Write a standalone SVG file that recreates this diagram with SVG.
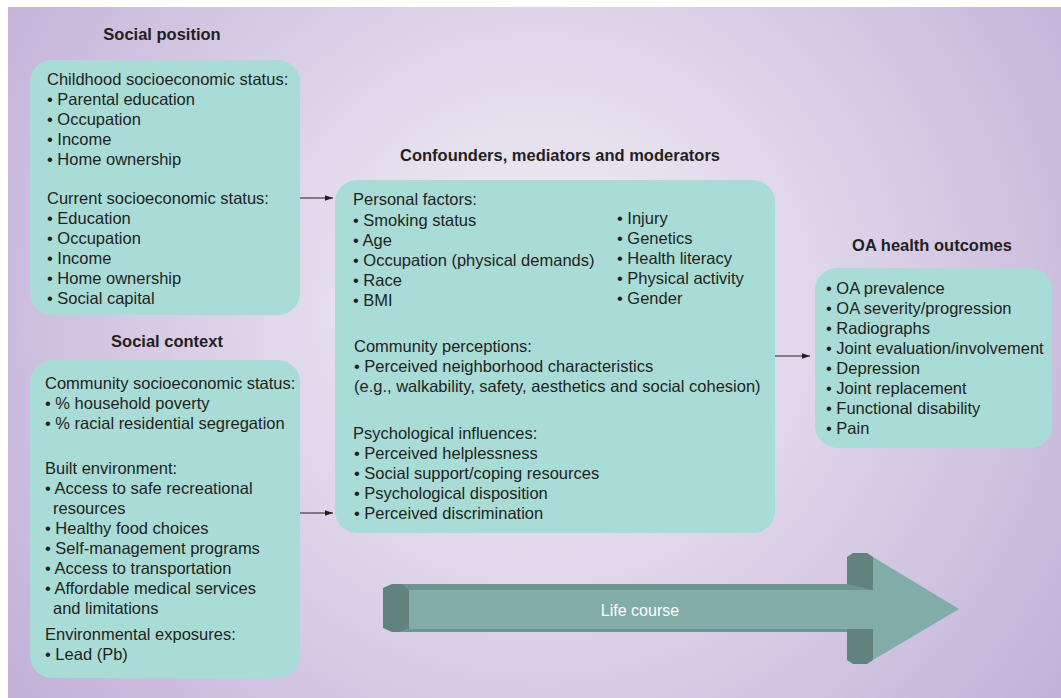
<svg xmlns="http://www.w3.org/2000/svg" width="1061" height="698" viewBox="0 0 1061 698">
<defs>
<radialGradient id="bg" gradientUnits="userSpaceOnUse" cx="540" cy="310" r="640">
<stop offset="0" stop-color="#f3f1f8"/>
<stop offset="0.3" stop-color="#e6dfee"/>
<stop offset="0.7" stop-color="#d2c5e2"/>
<stop offset="1" stop-color="#c3b2d8"/>
</radialGradient>
<marker id="ah" viewBox="0 0 10 10" refX="10" refY="5" markerWidth="8" markerHeight="8" markerUnits="userSpaceOnUse" orient="auto">
<path d="M0,1.5 L10,5 L0,8.5 z" fill="#231f20"/>
</marker>
</defs>
<style>
.box{fill:#a9dcd7}
.t{font-family:"Liberation Sans",Arial,sans-serif;font-size:16.5px;fill:#231f20}
.h{font-family:"Liberation Sans",Arial,sans-serif;font-size:16.5px;font-weight:bold;fill:#231f20;text-anchor:middle}
.con{stroke:#231f20;stroke-width:1;fill:none;marker-end:url(#ah)}
.dark{fill:#62827e}
.mid{fill:#6e948f}
.lite{fill:#82aca8}
</style>
<rect x="8" y="7" width="1053" height="691" fill="url(#bg)"/>

<g id="social-position">
<text class="h" x="162" y="40">Social position</text>
<rect class="box" x="30" y="60" width="270" height="255" rx="22"/>
<text class="t" x="47" y="85">Childhood socioeconomic status:</text>
<text class="t" x="47" y="105">• Parental education</text>
<text class="t" x="47" y="125">• Occupation</text>
<text class="t" x="47" y="145">• Income</text>
<text class="t" x="47" y="165">• Home ownership</text>
<text class="t" x="47" y="204">Current socioeconomic status:</text>
<text class="t" x="47" y="224">• Education</text>
<text class="t" x="47" y="244">• Occupation</text>
<text class="t" x="47" y="264">• Income</text>
<text class="t" x="47" y="284">• Home ownership</text>
<text class="t" x="47" y="304">• Social capital</text>
</g>

<g id="social-context">
<text class="h" x="167" y="347">Social context</text>
<rect class="box" x="30" y="360" width="270" height="318" rx="22"/>
<text class="t" x="45" y="389">Community socioeconomic status:</text>
<text class="t" x="45" y="409">• % household poverty</text>
<text class="t" x="45" y="429">• % racial residential segregation</text>
<text class="t" x="45" y="474">Built environment:</text>
<text class="t" x="45" y="494">• Access to safe recreational</text>
<text class="t" x="53" y="514">resources</text>
<text class="t" x="45" y="534">• Healthy food choices</text>
<text class="t" x="45" y="554">• Self-management programs</text>
<text class="t" x="45" y="574">• Access to transportation</text>
<text class="t" x="45" y="594">• Affordable medical services</text>
<text class="t" x="53" y="614">and limitations</text>
<text class="t" x="45" y="640">Environmental exposures:</text>
<text class="t" x="45" y="660">• Lead (Pb)</text>
</g>

<g id="confounders">
<text class="h" x="560" y="161">Confounders, mediators and moderators</text>
<rect class="box" x="335" y="180" width="440" height="353" rx="22"/>
<text class="t" x="353" y="205">Personal factors:</text>
<text class="t" x="353" y="226">• Smoking status</text>
<text class="t" x="353" y="246">• Age</text>
<text class="t" x="353" y="266">• Occupation (physical demands)</text>
<text class="t" x="353" y="286">• Race</text>
<text class="t" x="353" y="306">• BMI</text>
<text class="t" x="617" y="224">• Injury</text>
<text class="t" x="617" y="244">• Genetics</text>
<text class="t" x="617" y="264">• Health literacy</text>
<text class="t" x="617" y="284">• Physical activity</text>
<text class="t" x="617" y="304">• Gender</text>
<text class="t" x="354" y="352">Community perceptions:</text>
<text class="t" x="354" y="372">• Perceived neighborhood characteristics</text>
<text class="t" x="354" y="392">(e.g., walkability, safety, aesthetics and social cohesion)</text>
<text class="t" x="353" y="439">Psychological influences:</text>
<text class="t" x="354" y="459">• Perceived helplessness</text>
<text class="t" x="354" y="479">• Social support/coping resources</text>
<text class="t" x="354" y="499">• Psychological disposition</text>
<text class="t" x="354" y="519">• Perceived discrimination</text>
</g>

<g id="oa-outcomes">
<text class="h" x="932" y="251">OA health outcomes</text>
<rect class="box" x="815" y="268" width="237" height="180" rx="22"/>
<text class="t" x="826" y="294">• OA prevalence</text>
<text class="t" x="826" y="314">• OA severity/progression</text>
<text class="t" x="826" y="334">• Radiographs</text>
<text class="t" x="826" y="354">• Joint evaluation/involvement</text>
<text class="t" x="826" y="374">• Depression</text>
<text class="t" x="826" y="394">• Joint replacement</text>
<text class="t" x="826" y="414">• Functional disability</text>
<text class="t" x="826" y="434">• Pain</text>
</g>

<g id="life-course">
<polygon class="dark" points="847,557 853,553 867,553 873,557 873,660 867,664 853,664 847,660"/>
<polygon class="mid" points="392,584 847,584 873,590 409,590"/>
<rect class="lite" x="409" y="590" width="464" height="39"/>
<polygon class="mid" points="409,629 847,629 847,632 400,632"/>
<polygon class="dark" points="383,588 392,584 402,584 409,590 409,629 400,632 392,632 383,628"/>
<polygon class="lite" points="873,557 959,609 873,660"/>
<text x="640" y="616" font-family="'Liberation Sans',Arial,sans-serif" font-size="16" fill="#ffffff" text-anchor="middle">Life course</text>
</g>

<g id="connectors">
<line class="con" x1="300" y1="198" x2="333" y2="198"/>
<line class="con" x1="300" y1="513" x2="333" y2="513"/>
<line class="con" x1="775" y1="356" x2="810" y2="356"/>
</g>
</svg>
